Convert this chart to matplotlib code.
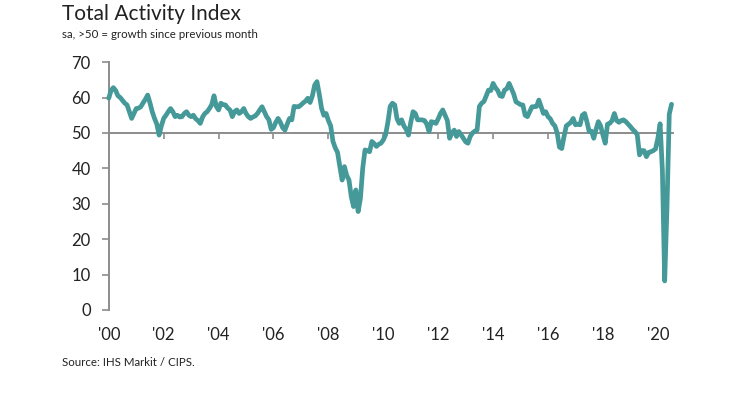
import numpy as np
import matplotlib
matplotlib.use('Agg')
import matplotlib.pyplot as plt

# monthly index values, Jan 2000 - Jul 2020
y2000 = [59.8, 62.0, 62.8, 62.0, 60.5, 60.0, 59.2, 58.4, 57.9, 56.0, 54.1, 55.5]
y2001 = [56.9, 57.0, 57.4, 58.5, 59.5, 60.7, 58.5, 56.0, 54.1, 52.5, 49.4, 52.0]
y2002 = [54.1, 55.0, 56.0, 56.9, 56.0, 54.6, 55.0, 54.5, 54.6, 55.5, 56.0, 55.0]
y2003 = [54.6, 55.0, 54.0, 53.5, 52.7, 54.5, 55.5, 56.0, 56.9, 58.0, 60.5, 57.5]
y2004 = [56.5, 58.4, 58.0, 57.9, 57.0, 56.5, 54.6, 56.0, 56.5, 55.5, 56.0, 56.9]
y2005 = [55.5, 54.6, 54.1, 54.5, 54.8, 55.5, 56.5, 57.4, 56.0, 54.6, 53.7, 51.0]
y2006 = [51.5, 53.0, 54.1, 53.0, 51.5, 50.8, 52.5, 54.1, 53.7, 57.5, 57.4, 57.4]
y2007 = [57.9, 58.5, 59.0, 59.8, 58.6, 60.5, 63.5, 64.5, 61.0, 57.0, 55.0, 55.5]
y2008 = [53.5, 52.0, 47.6, 45.8, 44.5, 40.5, 36.7, 40.5, 38.0, 36.7, 32.0, 29.2]
y2009 = [33.9, 27.8, 31.5, 40.0, 45.2, 45.0, 44.7, 47.6, 47.0, 46.2, 46.8, 47.1]
y2010 = [48.0, 49.5, 53.0, 57.5, 58.4, 57.9, 54.0, 52.7, 53.7, 52.0, 51.0, 49.4]
y2011 = [53.0, 56.0, 55.5, 53.7, 53.7, 53.7, 53.5, 52.5, 50.4, 53.2, 53.0, 52.7]
y2012 = [54.0, 55.5, 56.5, 55.0, 53.5, 48.5, 50.0, 50.8, 49.0, 50.4, 49.5, 48.5]
y2013 = [47.5, 47.1, 49.0, 50.0, 50.5, 50.8, 57.5, 58.4, 58.9, 60.5, 62.1, 62.0]
y2014 = [64.0, 62.8, 62.0, 60.5, 60.3, 62.1, 62.5, 64.0, 62.5, 61.0, 58.8, 58.4]
y2015 = [58.0, 57.9, 55.0, 54.6, 56.0, 57.4, 57.4, 57.5, 59.3, 57.4, 55.5, 56.0]
y2016 = [54.6, 54.0, 52.7, 52.0, 50.0, 46.0, 45.6, 49.0, 52.0, 52.5, 53.0, 54.1]
y2017 = [52.3, 52.5, 52.3, 55.0, 55.5, 53.2, 50.4, 50.5, 48.5, 51.0, 53.2, 52.0]
y2018 = [49.4, 47.1, 52.5, 52.7, 53.5, 55.5, 53.5, 53.0, 53.5, 53.7, 53.2, 52.5]
y2019 = [51.8, 51.0, 50.4, 49.5, 43.8, 45.0, 45.0, 43.3, 44.5, 44.7, 45.0, 45.5]
y2020 = [48.4, 52.6, 39.3, 8.2, 28.9, 55.3, 58.1]

values = (y2000 + y2001 + y2002 + y2003 + y2004 + y2005 + y2006 + y2007 + y2008
          + y2009 + y2010 + y2011 + y2012 + y2013 + y2014 + y2015 + y2016 + y2017
          + y2018 + y2019 + y2020)
months = np.arange(len(values))

year_ticks = np.arange(0, 241, 24)
year_labels = ["'00", "'02", "'04", "'06", "'08", "'10", "'12", "'14", "'16", "'18", "'20"]
y_ticks = [0, 10, 20, 30, 40, 50, 60, 70]

teal = '#459a99'
grey = '#8c8c8c'
plt.rcParams['font.family'] = ['Lato', 'DejaVu Sans']

fig = plt.figure(figsize=(7.3, 4.17), dpi=100)
ax = fig.add_axes([0.149, 0.2566, 0.7725, 0.5944])

ax.plot(months, values, color=teal, lw=3.4, solid_joinstyle='round',
        solid_capstyle='round', clip_on=False, zorder=3)

ax.set_xlim(0, 246.5)
ax.set_ylim(0, 70)

# x axis drawn as the 50 line, labels at the bottom
for s in ['top', 'right']:
    ax.spines[s].set_visible(False)
ax.spines['bottom'].set_position(('data', 50))
ax.spines['bottom'].set_color(grey)
ax.spines['bottom'].set_linewidth(1.4)
ax.spines['left'].set_color(grey)
ax.spines['left'].set_linewidth(1.4)
ax.set_xticks(year_ticks)
ax.tick_params(axis='x', length=4, width=1.2, color=grey, labelbottom=False)
ax.set_yticks(y_ticks)
ax.tick_params(axis='y', length=5, width=1.2, color=grey, labelsize=12,
               labelcolor='#222222', pad=8)

sec = ax.secondary_xaxis(0)
sec.set_xticks(year_ticks)
sec.set_xticklabels(year_labels)
sec.spines['bottom'].set_visible(False)
sec.tick_params(length=0, labelsize=12, labelcolor='#222222', pad=12)

fig.text(0.085, 0.99, 'Total Activity Index', fontsize=15, color='#222222',
         va='top', ha='left')
fig.text(0.085, 0.93, 'sa, >50 = growth since previous month', fontsize=8.3,
         color='#222222', va='top', ha='left')
fig.text(0.085, 0.145, 'Source: IHS Markit / CIPS.', fontsize=8.3,
         color='#222222', va='top', ha='left')

fig.savefig('out.png', dpi=100)
